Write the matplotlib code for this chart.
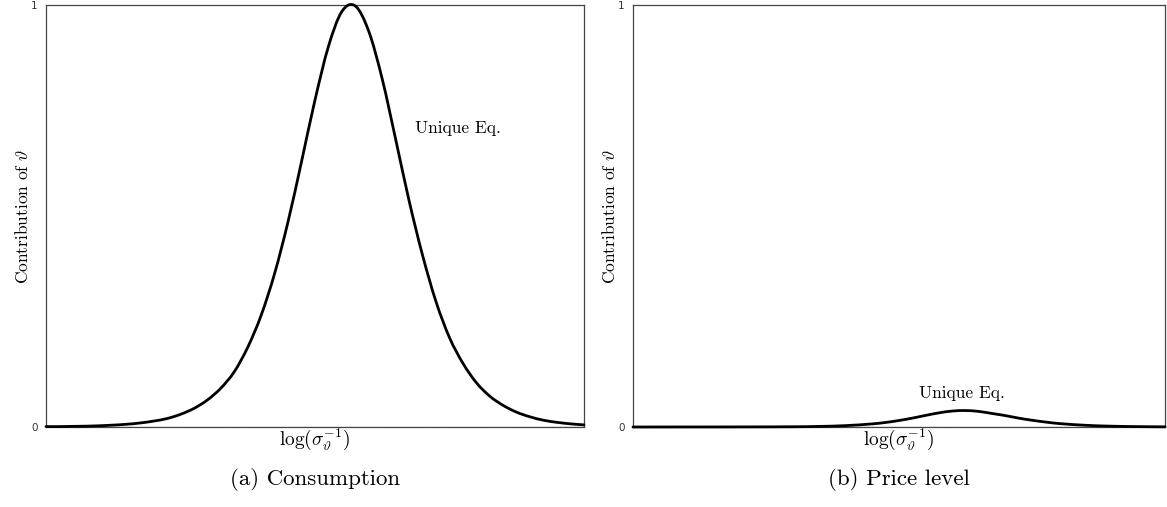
import numpy as np
from matplotlib import pyplot as plt
from matplotlib.path import Path
from matplotlib.patches import PathPatch

plt.rcParams['mathtext.fontset'] = 'cm'
plt.rcParams['axes.unicode_minus'] = False

# contribution curves, x runs over the plotted range of log(sigma^-1)
x_cons = [0.0, 0.025, 0.05, 0.075, 0.1, 0.125, 0.15, 0.175, 0.2, 0.225,
          0.25, 0.275, 0.3, 0.325, 0.35, 0.375, 0.4, 0.425, 0.45, 0.475,
          0.5, 0.525, 0.55, 0.575, 0.6, 0.625, 0.65, 0.675, 0.7,
          0.725, 0.75, 0.775, 0.8, 0.825, 0.85, 0.875, 0.9, 0.925, 0.95,
          0.975, 1.0]
y_cons = [0.001, 0.001, 0.0015, 0.002, 0.003, 0.0045, 0.0065, 0.0095, 0.014, 0.02,
          0.03, 0.044, 0.064, 0.092, 0.131, 0.189, 0.265, 0.364, 0.487, 0.629,
          0.775, 0.902, 0.985, 0.998, 0.938, 0.825, 0.682, 0.536, 0.407,
          0.297, 0.212, 0.151, 0.105, 0.073, 0.051, 0.035, 0.024, 0.016, 0.011,
          0.0075, 0.005]

x_price = [0.0, 0.1, 0.2, 0.3, 0.35, 0.4, 0.45, 0.475, 0.5, 0.525,
           0.55, 0.575, 0.6, 0.625, 0.65, 0.675, 0.7, 0.725, 0.75, 0.775,
           0.8, 0.85, 0.9, 0.95, 1.0]
y_price = [0.0, 0.0001, 0.0002, 0.0006, 0.0014, 0.0033, 0.0074, 0.0108, 0.0154, 0.021,
           0.0275, 0.0335, 0.0378, 0.039, 0.0369, 0.032, 0.027, 0.021, 0.016, 0.0118,
           0.0083, 0.0041, 0.0019, 0.0009, 0.0004]

captions = ['(a) Consumption', '(b) Price level']
label_pos = [(0.766, 0.709), (0.618, 0.08)]


def smooth_path(xs, ys):
    # catmull-rom through the points, written as cubic bezier segments
    p = np.column_stack([xs, ys])
    verts = [p[0]]
    codes = [Path.MOVETO]
    for i in range(len(p) - 1):
        p0 = p[i - 1] if i > 0 else p[i]
        p1, p2 = p[i], p[i + 1]
        p3 = p[i + 2] if i + 2 < len(p) else p[i + 1]
        h = p2[0] - p1[0]
        # tangents scaled to the local segment width so uneven spacing stays smooth
        t1 = (p2 - p0) / (p2[0] - p0[0]) * h if p2[0] != p0[0] else p2 - p1
        t2 = (p3 - p1) / (p3[0] - p1[0]) * h if p3[0] != p1[0] else p2 - p1
        verts += [p1 + t1 / 3.0, p2 - t2 / 3.0, p2]
        codes += [Path.CURVE4] * 3
    return Path(verts, codes)


fig = plt.figure(figsize=(11.67, 5.07), dpi=100)
ax1 = fig.add_axes([0.0394, 0.1578, 0.461, 0.832])
ax2 = fig.add_axes([0.5424, 0.1578, 0.4559, 0.832])

for ax, xs, ys, cap, pos in zip([ax1, ax2], [x_cons, x_price], [y_cons, y_price],
                                 captions, label_pos):
    ax.axhline(0, color='gray', ls=(0, (1, 1)), lw=1.0, zorder=1)
    ax.add_patch(PathPatch(smooth_path(xs, ys), fill=False, edgecolor='black',
                           lw=2.0, zorder=3, clip_on=False, capstyle='round'))
    ax.set_xlim(0, 1)
    ax.set_ylim(0, 1)
    ax.set_xticks([])
    ax.set_yticks([0, 1])
    ax.set_yticklabels(['0', '1'], fontsize=7.5, color='#333333')
    ax.tick_params(axis='y', length=0, pad=6)
    for s in ax.spines.values():
        s.set_color('#444444')
        s.set_linewidth(0.9)
    ax.set_ylabel(r'Contribution of $\vartheta$', family='cmr10', fontsize=12.5, labelpad=0)
    ax.set_xlabel(r'$\log(\sigma_\vartheta^{-1})$', fontsize=14, labelpad=0)
    ax.text(pos[0], pos[1], 'Unique Eq.', family='cmr10', fontsize=12.5,
            ha='center', va='center')
    ax.text(0.5, -0.125, cap, family='cmr10', fontsize=16.5, ha='center', va='center',
            transform=ax.transAxes)

fig.savefig('out.png', dpi=100)
